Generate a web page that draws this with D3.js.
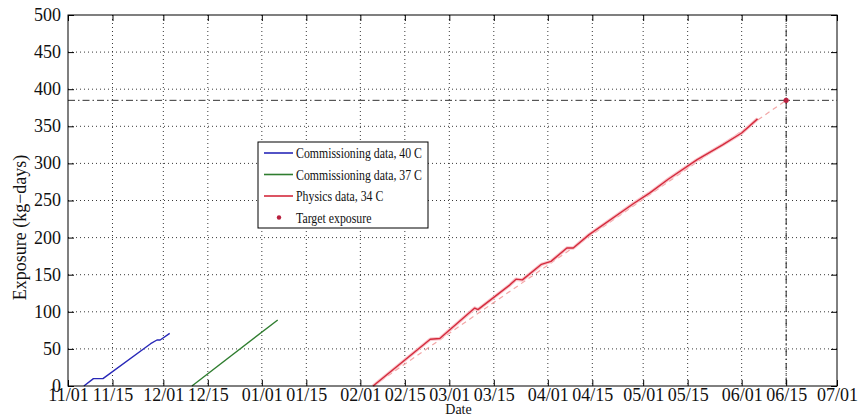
<!DOCTYPE html>
<html>
<head>
<meta charset="utf-8">
<script src="https://cdn.jsdelivr.net/npm/d3@7/dist/d3.min.js"></script>
<style>
  html, body { margin: 0; padding: 0; background: #fff; }
  svg { display: block; }
  svg text { font-family: "Liberation Serif", "DejaVu Serif", serif !important; fill: #111; }
</style>
</head>
<body>
<svg id="chart" width="860" height="418"></svg>
<script>
// Exposure accumulated over the run (kg-days)
const commissioning40Dates  = ["2009-11-06", "2009-11-09", "2009-11-12", "2009-11-27", "2009-11-29", "2009-11-30", "2009-12-03"];
const commissioning40Values = [0, 10, 10, 57, 62, 62, 71];

const commissioning37Dates  = ["2009-12-10", "2010-01-06"];
const commissioning37Values = [0, 89];

const physicsDates  = ["2010-02-05", "2010-02-23", "2010-02-26", "2010-03-09", "2010-03-10", "2010-03-20", "2010-03-22",
                       "2010-03-24", "2010-03-30", "2010-04-02", "2010-04-07", "2010-04-09", "2010-04-14", "2010-04-28",
                       "2010-05-03", "2010-05-09", "2010-05-18", "2010-05-26", "2010-06-01", "2010-06-06"];
const physicsValues = [0, 63, 64, 105, 103, 136, 144, 143, 164, 168, 186, 186, 204, 246, 260, 279, 305, 325, 341, 360];

// Projected accumulation toward the target
const projectionDates  = ["2010-02-05", "2010-06-15"];
const projectionValues = [0, 385];

const targetDate  = "2010-06-15";
const targetValue = 385;

const xTickDates  = ["2009-11-01", "2009-11-15", "2009-12-01", "2009-12-15", "2010-01-01", "2010-01-15", "2010-02-01", "2010-02-15",
                     "2010-03-01", "2010-03-15", "2010-04-01", "2010-04-15", "2010-05-01", "2010-05-15", "2010-06-01", "2010-06-15", "2010-07-01"];
const xTickLabels = ["11/01", "11/15", "12/01", "12/15", "01/01", "01/15", "02/01", "02/15",
                     "03/01", "03/15", "04/01", "04/15", "05/01", "05/15", "06/01", "06/15", "07/01"];
const yTicks = [0, 50, 100, 150, 200, 250, 300, 350, 400, 450, 500];

const legendLabels = ["Commissioning data, 40 C", "Commissioning data, 37 C", "Physics data, 34 C", "Target exposure"];

const FONT = '"Liberation Serif", "DejaVu Serif", serif';
const parse = d3.timeParse("%Y-%m-%d");
const zip = (ds, vs) => ds.map((d, i) => ({ date: parse(d), value: vs[i] }));

const m = { left: 68, right: 837, top: 15, bottom: 386 };
const svg = d3.select("#chart").style("font-family", FONT);

const x = d3.scaleTime()
  .domain([parse("2009-11-01"), parse("2010-07-01")])
  .range([m.left, m.right]);
const y = d3.scaleLinear().domain([0, 500]).range([m.bottom, m.top]);

const W = m.right - m.left, H = m.bottom - m.top;

// Dotted grid
const grid = svg.append("g");
xTickDates.slice(1, -1).forEach(d => {
  grid.append("line")
    .attr("x1", x(parse(d))).attr("x2", x(parse(d)))
    .attr("y1", m.top).attr("y2", m.bottom)
    .attr("stroke", "#222").attr("stroke-width", 0.9).attr("stroke-dasharray", "1,3");
});
yTicks.slice(1, -1).forEach(v => {
  grid.append("line")
    .attr("x1", m.left).attr("x2", m.right)
    .attr("y1", y(v)).attr("y2", y(v))
    .attr("stroke", "#222").attr("stroke-width", 0.9).attr("stroke-dasharray", "1,3");
});

// Target guides
svg.append("line")
  .attr("x1", m.left).attr("x2", m.right)
  .attr("y1", y(targetValue)).attr("y2", y(targetValue))
  .attr("stroke", "#333").attr("stroke-width", 1).attr("stroke-dasharray", "7,3,1.5,3");
svg.append("line")
  .attr("x1", x(parse(targetDate))).attr("x2", x(parse(targetDate)))
  .attr("y1", m.top).attr("y2", m.bottom)
  .attr("stroke", "#222").attr("stroke-width", 1).attr("stroke-dasharray", "7,3,1.5,3");

const line = d3.line().x(d => x(d.date)).y(d => y(d.value));

// Projection
svg.append("path")
  .datum(zip(projectionDates, projectionValues))
  .attr("d", line).attr("fill", "none")
  .attr("stroke", "#f2a6a6").attr("stroke-width", 1.2).attr("stroke-dasharray", "5,4");

// Data series
const series = [
  { data: zip(commissioning40Dates, commissioning40Values), color: "#2828b8", halo: null },
  { data: zip(commissioning37Dates, commissioning37Values), color: "#2f7d2f", halo: null },
  { data: zip(physicsDates, physicsValues), color: "#d42a3c", halo: "#f9c4ca" }
];
series.forEach(s => {
  if (s.halo) {
    svg.append("path").datum(s.data).attr("d", line).attr("fill", "none")
      .attr("stroke", s.halo).attr("stroke-width", 3.5).attr("stroke-linejoin", "round");
  }
  svg.append("path").datum(s.data).attr("d", line).attr("fill", "none")
    .attr("stroke", s.color).attr("stroke-width", 1.4).attr("stroke-linejoin", "round");
});

// Target point
svg.append("circle")
  .attr("cx", x(parse(targetDate))).attr("cy", y(targetValue))
  .attr("r", 2.6).attr("fill", "#b8203e");

// Frame
svg.append("rect")
  .attr("x", m.left).attr("y", m.top).attr("width", W).attr("height", H)
  .attr("fill", "none").attr("stroke", "#000").attr("stroke-width", 1);

// Axes with inward ticks
const xAxisB = d3.axisBottom(x).tickValues(xTickDates.map(parse))
  .tickFormat((d, i) => xTickLabels[i]).tickSizeInner(-6).tickSizeOuter(0).tickPadding(2);
const gx = svg.append("g").attr("transform", `translate(0,${m.bottom})`).call(xAxisB);
const xAxisT = d3.axisTop(x).tickValues(xTickDates.map(parse)).tickFormat("").tickSizeInner(-6).tickSizeOuter(0);
const gxt = svg.append("g").attr("transform", `translate(0,${m.top})`).call(xAxisT);

const yAxisL = d3.axisLeft(y).tickValues(yTicks).tickFormat(d3.format("d"))
  .tickSizeInner(-6).tickSizeOuter(0).tickPadding(10);
const gy = svg.append("g").attr("transform", `translate(${m.left},0)`).call(yAxisL);
const yAxisR = d3.axisRight(y).tickValues(yTicks).tickFormat("").tickSizeInner(-6).tickSizeOuter(0);
const gyr = svg.append("g").attr("transform", `translate(${m.right},0)`).call(yAxisR);

[gx, gxt, gy, gyr].forEach(g => {
  g.attr("font-family", FONT);
  g.select(".domain").remove();
  g.selectAll(".tick line").attr("stroke", "#000");
  g.selectAll("text").style("font-family", FONT).attr("font-size", 18).attr("fill", "#111");
});
gx.selectAll("text").attr("dy", "0.7em");
gy.selectAll("text").attr("dx", "3").attr("dy", "0.3em");

// Axis titles
svg.append("text")
  .attr("x", (m.left + m.right) / 2 + 6).attr("y", 414)
  .attr("text-anchor", "middle").attr("font-size", 14).style("font-family", FONT).text("Date");
svg.append("text")
  .attr("transform", `translate(26,${(m.top + m.bottom) / 2 + 27}) rotate(-90)`)
  .attr("text-anchor", "middle").attr("font-size", 18).style("font-family", FONT).text("Exposure (kg\u2212days)");

// Legend: labels are condensed together so the longest entry fits inside the box
const legendBox = { x: 258, y: 142, w: 170, h: 86, textX: 38, textW: 126 };
const lg = svg.append("g").attr("transform", `translate(${legendBox.x},${legendBox.y})`);
lg.append("rect").attr("width", legendBox.w).attr("height", legendBox.h)
  .attr("fill", "#fff").attr("stroke", "#000").attr("stroke-width", 1);
const legendColors = ["#2828b8", "#2f7d2f", "#d42a3c", "#b8203e"];
const legendTexts = [];
legendLabels.forEach((lab, i) => {
  const cy = 11 + i * 21.5;
  if (i < 3) {
    lg.append("line").attr("x1", 6).attr("x2", 35).attr("y1", cy).attr("y2", cy)
      .attr("stroke", legendColors[i]).attr("stroke-width", 1.6);
  } else {
    lg.append("circle").attr("cx", 21).attr("cy", cy).attr("r", 2.2).attr("fill", legendColors[i]);
  }
  legendTexts.push(lg.append("text").attr("x", legendBox.textX).attr("y", cy).attr("dy", "0.35em")
    .attr("font-size", 14.5).style("font-family", FONT).text(lab));
});
const lengths = legendTexts.map(t => t.node().getComputedTextLength());
const squeeze = Math.min(1, legendBox.textW / d3.max(lengths));
legendTexts.forEach((t, i) => {
  if (squeeze < 1) t.attr("textLength", lengths[i] * squeeze).attr("lengthAdjust", "spacingAndGlyphs");
});
</script>
</body>
</html>
